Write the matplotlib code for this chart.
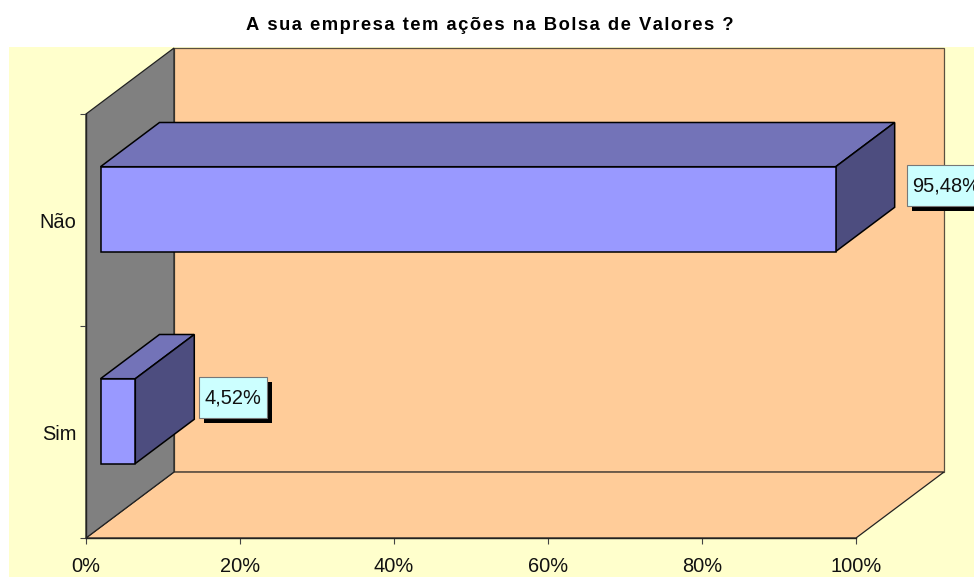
import matplotlib
matplotlib.use('Agg')
import matplotlib.pyplot as plt
from matplotlib.patches import Polygon, Rectangle

plt.rcParams['font.family'] = ['Liberation Sans', 'DejaVu Sans']

# Data
categories = ['Sim', 'Não']
values = [4.52, 95.48]
value_labels = ['4,52%', '95,48%']
x_ticks = [0, 20, 40, 60, 80, 100]
x_tick_labels = ['0%', '20%', '40%', '60%', '80%', '100%']
title = 'A sua empresa tem ações na Bolsa de Valores ?'

# Fake 3D: how far the back of the box is shifted, in data units
DX = 88 / 7.7
DY = 66 / 212
PX_X = 100 / 770
PX_Y = 1 / 212
BAR_H = 0.4
D0 = 0.165
D1 = 0.835
FS = 14.4


def proj(x, y, d):
    return (x + DX * d, y + DY * d)


fig = plt.figure(figsize=(9.74, 5.77), dpi=100, facecolor='white')
fig.add_artist(Rectangle((9 / 974, 0), 965 / 974, 530 / 577, transform=fig.transFigure,
                         facecolor='#FFFFCC', edgecolor='none', zorder=-1))

ax = fig.add_axes([86 / 974, 39 / 577, 770 / 974, 424 / 577])
ax.patch.set_alpha(0)
ax.set_xlim(0, 100)
ax.set_ylim(0, 2)

# Walls
back = [proj(0, 0, 1), proj(100, 0, 1), proj(100, 2, 1), proj(0, 2, 1)]
floor = [proj(0, 0, 0), proj(100, 0, 0), proj(100, 0, 1), proj(0, 0, 1)]
side = [proj(0, 0, 0), proj(0, 0, 1), proj(0, 2, 1), proj(0, 2, 0)]
ax.add_patch(Polygon(back, closed=True, facecolor='#FFCC99', edgecolor='#5a5040', lw=0.9, clip_on=False, zorder=1))
ax.add_patch(Polygon(floor, closed=True, facecolor='#FFCC99', edgecolor='#222222', lw=0.9, clip_on=False, zorder=1.1))
ax.add_patch(Polygon(side, closed=True, facecolor='#808080', edgecolor='#222222', lw=0.9, clip_on=False, zorder=1.2))

# Bars
for i, v in enumerate(values):
    y0 = i + 0.5 - BAR_H / 2
    y1 = i + 0.5 + BAR_H / 2
    front = [proj(0, y0, D0), proj(v, y0, D0), proj(v, y1, D0), proj(0, y1, D0)]
    top = [proj(0, y1, D0), proj(v, y1, D0), proj(v, y1, D1), proj(0, y1, D1)]
    right = [proj(v, y0, D0), proj(v, y0, D1), proj(v, y1, D1), proj(v, y1, D0)]
    ax.add_patch(Polygon(top, closed=True, facecolor='#7373B8', edgecolor='black', lw=1.1, clip_on=False, zorder=3))
    ax.add_patch(Polygon(right, closed=True, facecolor='#4D4D7F', edgecolor='black', lw=1.1, clip_on=False, zorder=3))
    ax.add_patch(Polygon(front, closed=True, facecolor='#9999FF', edgecolor='black', lw=1.1, clip_on=False, zorder=3.1))

    # Value label with drop shadow
    bx, by = proj(v, y1, D1)
    bx += (5 if i == 0 else 12) * PX_X
    by -= 84 * PX_Y
    w, h = 68 * PX_X, 41 * PX_Y
    ax.add_patch(Rectangle((bx + 5 * PX_X, by - 5 * PX_Y), w, h, facecolor='black', edgecolor='none',
                           clip_on=False, zorder=4))
    ax.add_patch(Rectangle((bx, by), w, h, facecolor='#CCFFFF', edgecolor='#777777', lw=0.8,
                           clip_on=False, zorder=4.1))
    ax.text(bx + 5 * PX_X, by + h / 2, value_labels[i], fontsize=FS, ha='left', va='center',
            color='#111111', clip_on=False, zorder=5)

# Axes
for s in ['top', 'right']:
    ax.spines[s].set_visible(False)
for s in ['left', 'bottom']:
    ax.spines[s].set_color('#222222')
    ax.spines[s].set_linewidth(1.0)
    ax.spines[s].set_zorder(2)
ax.set_xticks(x_ticks)
ax.set_xticklabels(x_tick_labels, fontsize=FS, color='#111111')
ax.set_yticks([0, 1, 2])
ax.set_yticklabels([])
ax.set_yticks([0.5, 1.5], labels=categories, minor=True, fontsize=FS, color='#111111')
ax.tick_params(axis='both', which='major', length=4.3, width=0.8, color='#444444')
ax.tick_params(axis='y', which='minor', length=0, pad=7)
ax.tick_params(axis='x', pad=9.5)

fig.text(489.5 / 974, 1 - 25 / 577, '\u200a'.join(title), fontsize=13.2, fontweight='bold', ha='center', va='center', color='black')

plt.savefig('out.png', dpi=100)
